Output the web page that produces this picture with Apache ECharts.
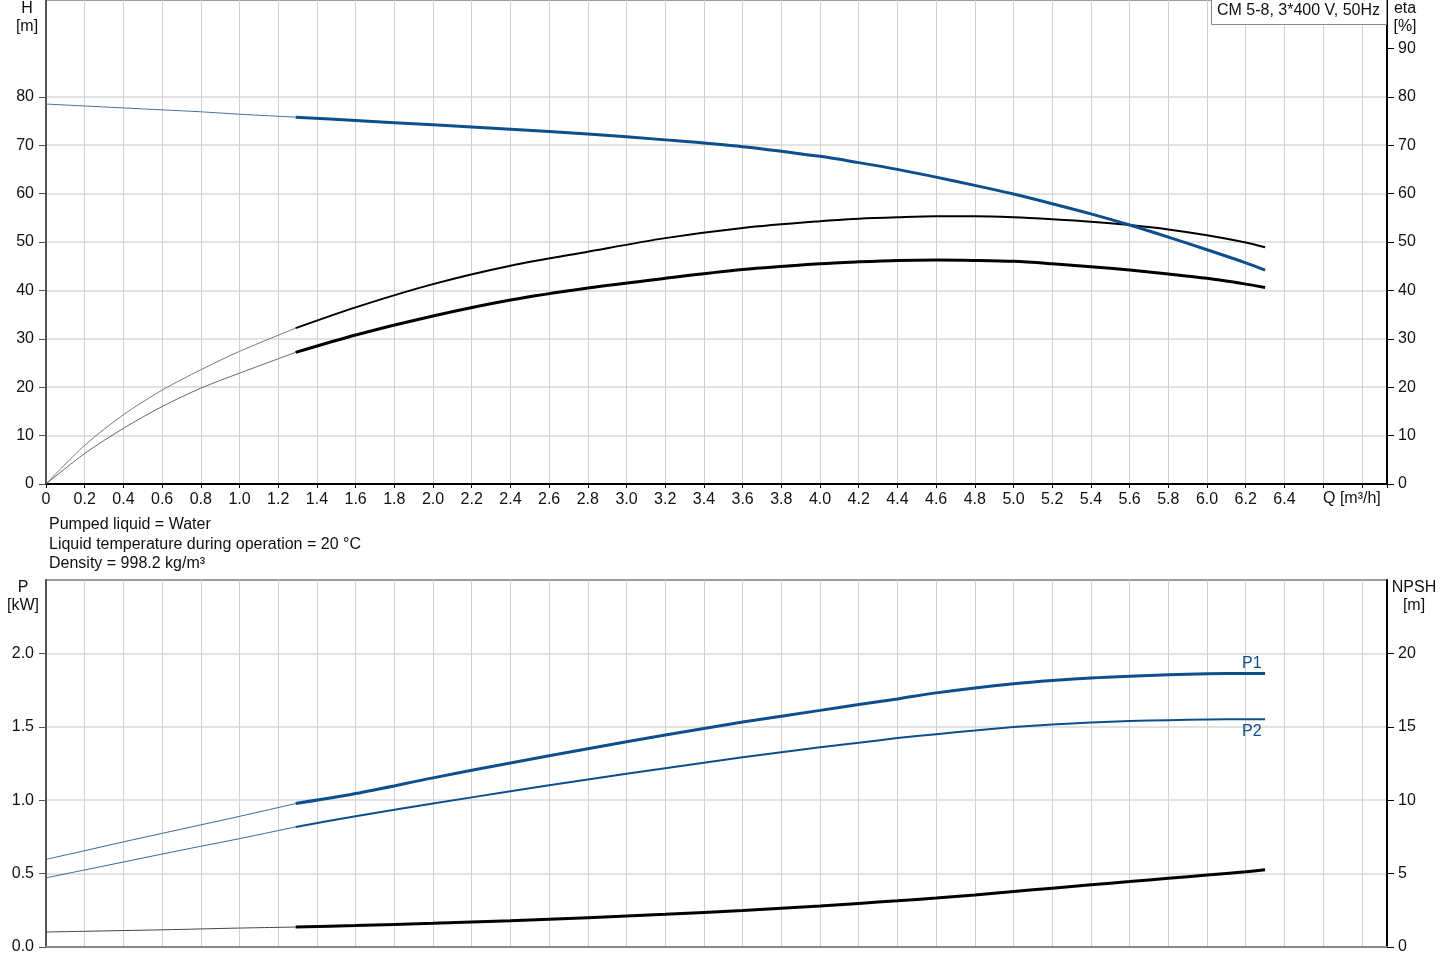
<!DOCTYPE html>
<html>
<head>
<meta charset="utf-8">
<script src="https://cdn.jsdelivr.net/npm/echarts@6/dist/echarts.min.js"></script>
<style>
html,body{margin:0;padding:0;background:#fff;}
#c{width:1445px;height:970px;}
</style>
</head>
<body>
<div id="c"></div>
<script>
// ---- data ----
const Q_EXT  = [0, 0.2, 0.4, 0.6, 0.8, 1.0, 1.29];
const Q_MAIN = [1.29, 1.6, 2.0, 2.4, 2.8, 3.2, 3.6, 4.0, 4.2, 4.4, 4.6, 4.8, 5.0, 5.2, 5.4, 5.6, 5.8, 6.0, 6.2, 6.3];

const H_EXT   = [78.5, 78.1, 77.7, 77.3, 76.9, 76.4, 75.8];
const H_MAIN  = [75.8, 75.1, 74.2, 73.3, 72.3, 71.1, 69.7, 67.7, 66.4, 65.0, 63.4, 61.7, 59.9, 57.9, 55.8, 53.5, 51.0, 48.4, 45.7, 44.2];

const ETA_EXT  = [0, 8.0, 14.3, 19.4, 23.6, 27.4, 32.2];
const ETA_MAIN = [32.2, 36.5, 41.3, 45.1, 48.0, 50.8, 52.9, 54.3, 54.8, 55.1, 55.3, 55.3, 55.1, 54.7, 54.2, 53.5, 52.6, 51.4, 49.9, 48.9];

const ETAT_EXT  = [0, 6.3, 11.5, 16.0, 19.8, 22.9, 27.2];
const ETAT_MAIN = [27.2, 30.8, 34.7, 38.0, 40.5, 42.5, 44.3, 45.5, 45.9, 46.2, 46.3, 46.2, 46.0, 45.5, 44.9, 44.2, 43.4, 42.5, 41.3, 40.6];

const P1_EXT  = [0.597, 0.656, 0.716, 0.774, 0.832, 0.89, 0.977];
const P1_MAIN = [0.977, 1.045, 1.152, 1.254, 1.351, 1.444, 1.532, 1.612, 1.652, 1.690, 1.731, 1.765, 1.793, 1.815, 1.833, 1.845, 1.854, 1.861, 1.863, 1.863];

const P2_EXT  = [0.471, 0.525, 0.579, 0.633, 0.686, 0.738, 0.818];
const P2_MAIN = [0.818, 0.891, 0.977, 1.061, 1.141, 1.218, 1.292, 1.360, 1.391, 1.423, 1.450, 1.475, 1.498, 1.516, 1.529, 1.539, 1.545, 1.550, 1.552, 1.552];

const NPSH_EXT  = [1.02, 1.07, 1.12, 1.17, 1.23, 1.29, 1.36];
const NPSH_MAIN = [1.36, 1.46, 1.61, 1.79, 2.0, 2.23, 2.49, 2.80, 2.97, 3.15, 3.34, 3.55, 3.78, 4.01, 4.24, 4.46, 4.68, 4.9, 5.13, 5.26];

// tick label values shown on each axis
const H_TICKS    = [0, 10, 20, 30, 40, 50, 60, 70, 80];
const ETA_TICKS  = [0, 10, 20, 30, 40, 50, 60, 70, 80, 90];
const P_TICKS    = [0, 0.5, 1.0, 1.5, 2.0];
const NPSH_TICKS = [0, 5, 10, 15, 20];
const X_TICK_LABEL_MAX = 6.4;
const TITLE_TEXT = 'CM 5-8, 3*400 V, 50Hz';
const NOTE_LINES = ['Pumped liquid = Water', 'Liquid temperature during operation = 20 °C', 'Density = 998.2 kg/m³'];

// ---- helpers ----
const zip = (xs, ys) => xs.map((x, i) => [x, ys[i]]);
const FONT = 'Liberation Sans, Arial, sans-serif';
const BLUE = '#0c4f8c';

const chart = echarts.init(document.getElementById('c'), null, {renderer: 'canvas'});

const xCommon = {
  type: 'value', min: 0, max: 6.93, interval: 0.2,
  splitLine: {show: true, lineStyle: {color: '#d0d0d0', width: 1}},
  axisTick: {show: true, length: 4, lineStyle: {color: '#000', width: 1}},
};

function line(name, data, xi, yi, color, width, z) {
  return {
    name, type: 'line', xAxisIndex: xi, yAxisIndex: yi, data,
    showSymbol: false, symbol: 'none', smooth: 0.3,
    lineStyle: {color, width}, z: z || 3, silent: true, animation: false
  };
}

function yAx(grid, pos, max, interval, ticks, lineColor, fmt, split) {
  return {
    type: 'value', gridIndex: grid, position: pos, min: 0, max, interval,
    axisLine: {show: true, onZero: false, lineStyle: {color: lineColor, width: 2}},
    axisTick: {show: true, length: 7, customValues: ticks, lineStyle: {color: lineColor}},
    axisLabel: {margin: pos === 'left' ? 12 : 11, color: '#111', fontSize: 16, fontFamily: FONT, customValues: ticks, formatter: fmt},
    splitLine: {show: split, lineStyle: {color: '#e2e2e2', width: 2}}
  };
}

const option = {
  animation: false,
  textStyle: {fontFamily: FONT},
  grid: [
    {left: 46, right: 58, top: 0, height: 484, show: true, borderColor: '#9a9a9a', borderWidth: 2, backgroundColor: 'transparent'},
    {left: 46, right: 58, top: 580, height: 367, show: true, borderColor: '#9a9a9a', borderWidth: 2, backgroundColor: 'transparent'}
  ],
  xAxis: [
    Object.assign({}, xCommon, {
      gridIndex: 0,
      axisLine: {show: true, onZero: false, lineStyle: {color: '#000', width: 2}},
      axisLabel: {
        show: true, margin: 8, color: '#111', fontSize: 16, fontFamily: FONT,
        formatter: v => v > X_TICK_LABEL_MAX + 0.01 ? '' : (v === 0 ? '0' : v.toFixed(1))
      }
    }),
    Object.assign({}, xCommon, {
      gridIndex: 1,
      axisLine: {show: true, onZero: false, lineStyle: {color: '#8a8a8a', width: 2}},
      axisTick: {show: false},
      axisLabel: {show: false}
    })
  ],
  yAxis: [
    yAx(0, 'left', 100, 10, H_TICKS, '#555', v => String(v), true),
    yAx(0, 'right', 100, 10, ETA_TICKS, '#000', v => String(v), false),
    yAx(1, 'left', 2.5, 0.5, P_TICKS, '#555', v => v.toFixed(1), true),
    yAx(1, 'right', 25, 5, NPSH_TICKS, '#000', v => String(v), false)
  ],
  series: [
    // top chart
    line('H ext', zip(Q_EXT, H_EXT), 0, 0, '#4a6f96', 1),
    line('H', zip(Q_MAIN, H_MAIN), 0, 0, BLUE, 3, 5),
    line('eta ext', zip(Q_EXT, ETA_EXT), 0, 1, '#777', 1),
    line('eta', zip(Q_MAIN, ETA_MAIN), 0, 1, '#000', 2, 4),
    line('eta tot ext', zip(Q_EXT, ETAT_EXT), 0, 1, '#666', 1),
    line('eta tot', zip(Q_MAIN, ETAT_MAIN), 0, 1, '#000', 3, 4),
    // bottom chart
    line('P1 ext', zip(Q_EXT, P1_EXT), 1, 2, '#3a6694', 1),
    Object.assign(line('P1', zip(Q_MAIN, P1_MAIN), 1, 2, BLUE, 3, 5), {
      endLabel: {show: true, formatter: 'P1', color: BLUE, fontSize: 16, fontFamily: FONT, distance: 0, offset: [-23, -10]}
    }),
    line('P2 ext', zip(Q_EXT, P2_EXT), 1, 2, '#3a6694', 1),
    Object.assign(line('P2', zip(Q_MAIN, P2_MAIN), 1, 2, BLUE, 2, 5), {
      endLabel: {show: true, formatter: 'P2', color: BLUE, fontSize: 16, fontFamily: FONT, distance: 0, offset: [-23, 12]}
    }),
    line('NPSH ext', zip(Q_EXT, NPSH_EXT), 1, 3, '#444', 1),
    line('NPSH', zip(Q_MAIN, NPSH_MAIN), 1, 3, '#000', 3, 4)
  ],
  graphic: [
    {type: 'text', left: 1323, top: 491, style: {text: 'Q [m³/h]', font: '16px ' + FONT, fill: '#111'}},
    {type: 'text', x: 27, y: 0, style: {text: 'H\n[m]', font: '16px ' + FONT, fill: '#111', align: 'center', lineHeight: 18}},
    {type: 'text', x: 1405, y: 0, style: {text: 'eta\n[%]', font: '16px ' + FONT, fill: '#111', align: 'center', lineHeight: 18}},
    {type: 'text', x: 23, y: 579, style: {text: 'P\n[kW]', font: '16px ' + FONT, fill: '#111', align: 'center', lineHeight: 18}},
    {type: 'text', x: 1414, y: 579, style: {text: 'NPSH\n[m]', font: '16px ' + FONT, fill: '#111', align: 'center', lineHeight: 18}},
    {type: 'text', x: 49, y: 515, style: {text: NOTE_LINES.join('\n'), font: '16px ' + FONT, fill: '#111', lineHeight: 19.5}},
    {type: 'rect', z: 100, shape: {x: 1211.5, y: -1.5, width: 175, height: 26}, style: {fill: '#fff', stroke: '#8a8a8a', lineWidth: 1}},
    {type: 'text', z: 101, x: 1217, y: 3, style: {text: TITLE_TEXT, font: '16px ' + FONT, fill: '#111'}}
  ]
};

chart.setOption(option);
</script>
</body>
</html>
